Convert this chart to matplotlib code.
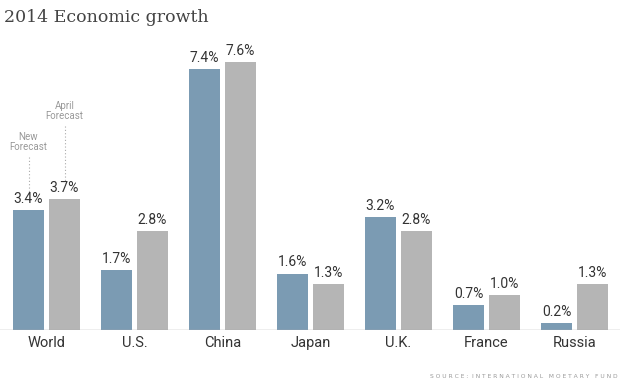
import matplotlib
matplotlib.use('Agg')
import numpy as np
from matplotlib import pyplot as plt

# データ
countries = ['World', 'U.S.', 'China', 'Japan', 'U.K.', 'France', 'Russia']
new_forecast = [3.4, 1.7, 7.4, 1.6, 3.2, 0.7, 0.2]
april_forecast = [3.7, 2.8, 7.6, 1.3, 2.8, 1.0, 1.3]

BLUE = '#7b9bb3'
GRAY = '#b5b5b5'
TEXT = '#333333'
NARROW = ['Liberation Sans Narrow', 'Roboto', 'DejaVu Sans']

def main():
    fig = plt.figure(figsize=(6.2, 3.8), dpi=100)
    # ピクセル単位で配置する
    ax = fig.add_axes([0, 50 / 380, 1, 290 / 380])
    px_per_unit = 35.3
    ax.set_xlim(0, 620)
    ax.set_ylim(0, 290 / px_per_unit)

    x = 13 + 88 * np.arange(len(countries))
    w = 31
    ax.bar(x, new_forecast, width=w, align='edge', color=BLUE)
    ax.bar(x + 36, april_forecast, width=w, align='edge', color=GRAY)

    # 値ラベル
    for xi, v in zip(x, new_forecast):
        ax.annotate(f'{v:.1f}%', (xi + w / 2, v), xytext=(0, 3), textcoords='offset points',
                    ha='center', va='bottom', fontsize=10, color=TEXT, family=NARROW)
    for xi, v in zip(x + 36, april_forecast):
        ax.annotate(f'{v:.1f}%', (xi + w / 2, v), xytext=(0, 3), textcoords='offset points',
                    ha='center', va='bottom', fontsize=10, color=TEXT, family=NARROW)

    # 国名
    for xi, c in zip(x, countries):
        ax.text(xi + 33.5, -0.38, c, ha='center', va='center', fontsize=10.5,
                color=TEXT, family=NARROW)

    # 凡例の代わりの注記
    ax.text(13 + w / 2, (330 - 142) / px_per_unit, 'New\nForecast', ha='center', va='center',
            fontsize=7, color='#999999', family=NARROW, linespacing=1.0)
    ax.plot([13 + w / 2] * 2, [(330 - 157) / px_per_unit, (330 - 194) / px_per_unit],
            ls=(0, (1, 2)), color='#aaaaaa', lw=0.8)
    ax.text(49 + w / 2, (330 - 111) / px_per_unit, 'April\nForecast', ha='center', va='center',
            fontsize=7, color='#999999', family=NARROW, linespacing=1.0)
    ax.plot([49 + w / 2] * 2, [(330 - 126) / px_per_unit, (330 - 183) / px_per_unit],
            ls=(0, (1, 2)), color='#aaaaaa', lw=0.8)

    ax.axhline(0, color='#aaaaaa', lw=1)
    for s in ax.spines.values():
        s.set_visible(False)
    ax.set_xticks([])
    ax.set_yticks([])
    ax.patch.set_alpha(0)

    fig.text(4 / 620, 1 - 18 / 380, '2014 Economic growth', ha='left', va='center',
             fontsize=12.5, color='#444444', family=['DejaVu Serif'])
    fig.text(618 / 620, 1 - 377 / 380, 'S O U R C E :  I N T E R N A T I O N A L   M O E T A R Y   F U N D',
             ha='right', va='center', fontsize=4.3, color='#999999', family=['DejaVu Sans'])

    fig.savefig('out.png', dpi=100)

if __name__ == "__main__":
    main()
